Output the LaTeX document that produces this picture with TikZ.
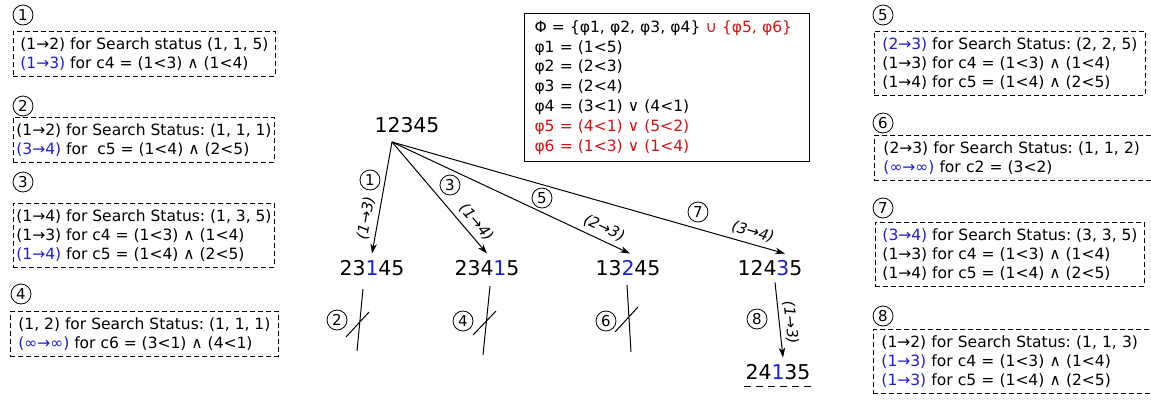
\documentclass[tikz,border=0pt]{standalone}
\usepackage{fontspec}
\setmainfont{DejaVu Sans}
\usetikzlibrary{arrows.meta,positioning}
\definecolor{swapblue}{RGB}{30,30,210}
\definecolor{phired}{RGB}{205,20,20}
\newcommand{\bl}[1]{\textcolor{swapblue}{#1}}
\newcommand{\rd}[1]{\textcolor{phired}{#1}}
\frenchspacing

\begin{document}
\begin{tikzpicture}[x=1pt,y=-1pt,>={Stealth[length=10pt,width=6.5pt]},
  status/.style={draw,dash pattern=on 5pt off 3pt,line width=0.9pt,anchor=north west,
    align=left,inner xsep=6pt,inner ysep=6pt,font=\fontsize{15.5}{19}\selectfont},
  stepno/.style={circle,draw,line width=0.8pt,inner sep=0pt,minimum size=20pt,
    font=\fontsize{15}{15}\selectfont},
  perm/.style={inner xsep=0pt,inner ysep=6.5pt,font=\fontsize{20.4}{20}\selectfont},
  swaplbl/.style={sloped,above=4pt,inner sep=1pt,font=\itshape\fontsize{15}{15}\selectfont},
  edge/.style={->,line width=1pt}]
  \useasboundingbox (0,0) rectangle (1151,399);

  % Left column of search states.
  \node[stepno] (s1) at (23,15) {1};
  \node[status,inner xsep=7pt] (b1) at (13,31)
    {(1→2) for Search status (1, 1, 5)\\
     \bl{(1→3)} for c4 = (1<3) ∧ (1<4)};
  \node[stepno] (s2) at (23,106) {2};
  \node[status,inner xsep=3pt] (b2) at (13,117)
    {(1→2) for Search Status: (1, 1, 1)\\
     \bl{(3→4)} for \ c5 = (1<4) ∧ (2<5)};
  \node[stepno] (s3) at (23,182) {3};
  \node[status,inner xsep=3pt] (b3) at (13,203)
    {(1→4) for Search Status: (1, 3, 5)\\
     (1→3) for c4 = (1<3) ∧ (1<4)\\
     \bl{(1→4)} for c5 = (1<4) ∧ (2<5)};
  \node[stepno] (s4) at (21,294) {4};
  \node[status,inner xsep=8pt] (b4) at (10,311)
    {(1, 2) for Search Status: (1, 1, 1)\\
     \bl{(∞→∞)} for c6 = (3<1) ∧ (4<1)};

  % Constraint set.
  \node[draw,line width=1pt,anchor=north west,align=left,text width=265pt,
    inner xsep=10pt,inner ysep=4pt,minimum height=148pt,
    font=\fontsize{15.5}{19.8}\selectfont] (phi) at (524,13)
    {Φ = \{φ1, φ2, φ3, φ4\} \rd{∪ \{φ5, φ6\}}\\
     φ1 = (1<5)\\
     φ2 = (2<3)\\
     φ3 = (2<4)\\
     φ4 = (3<1) ∨ (4<1)\\
     \rd{φ5 = (4<1) ∨ (5<2)}\\
     \rd{φ6 = (1<3) ∨ (1<4)}};

  % Search tree.
  \node[perm] (root) at (407,125) {12345};
  \coordinate (fork) at (392,142);
  \node[perm] (n1) at (372,268) {23\bl{1}45};
  \node[perm] (n3) at (487,268) {234\bl{1}5};
  \node[perm] (n5) at (628,268) {13\bl{2}45};
  \node[perm] (n7) at (770,268) {124\bl{3}5};
  \node[perm] (n8) at (778,372) {24\bl{1}35};

  \draw[edge] (fork) -- node[swaplbl,pos=0.70] {(1→3)} (n1.north);
  \draw[edge] (fork) -- node[swaplbl,pos=0.79] {(1→4)} (n3.north);
  \draw[edge] (fork) -- node[swaplbl,pos=0.87] {(2→3)} ([xshift=2pt]n5.north);
  \draw[edge] (fork) -- node[swaplbl,pos=0.91] {(3→4)} ([xshift=15pt]n7.north);
  \draw[edge] ([xshift=5pt]n7.south) -- node[swaplbl,above=3pt,pos=0.55] {(1→3)} ([xshift=5pt]n8.north);
  \node[stepno] (e1) at (370,180) {1};
  \node[stepno] (e3) at (450,185) {3};
  \node[stepno] (e5) at (542,198) {5};
  \node[stepno] (e7) at (698,212) {7};
  \node[stepno] (e8) at (757,319) {8};

  % Pruned branches.
  \draw[line width=1pt] (363,289) -- (357,351) (346,337) -- (369,312);
  \node[stepno] (e2) at (337,320) {2};
  \draw[line width=1pt] (490,286) -- (483,355) (473,335) -- (496,311);
  \node[stepno] (e4) at (463,321) {4};
  \draw[line width=1pt] (627,285) -- (631,352) (615,332) -- (638,307);
  \node[stepno] (e6) at (606,321) {6};

  % Solution mark.
  \draw[line width=1pt,dash pattern=on 7pt off 5pt]
    ([xshift=-1pt]n8.south west) -- ([xshift=5pt]n8.south east);

  % Right column of search states.
  \node[stepno] (s5) at (883,15) {5};
  \node[status,inner xsep=8pt] (b5) at (874,31)
    {\bl{(2→3)} for Search Status: (2, 2, 5)\\
     (1→3) for c4 = (1<3) ∧ (1<4)\\
     (1→4) for c5 = (1<4) ∧ (2<5)};
  \node[stepno] (s6) at (883,123) {6};
  \node[status,inner xsep=9pt,text width=270pt] (b6) at (874,135)
    {(2→3) for Search Status: (1, 1, 2)\\
     \bl{(∞→∞)} for c2 = (3<2)};
  \node[stepno] (s7) at (883,208) {7};
  \node[status,inner xsep=7pt] (b7) at (875,222)
    {\bl{(3→4)} for Search Status: (3, 3, 5)\\
     (1→3) for c4 = (1<3) ∧ (1<4)\\
     (1→4) for c5 = (1<4) ∧ (2<5)};
  \node[stepno] (s8) at (883,316) {8};
  \node[status,inner xsep=8pt,text width=270pt] (b8) at (873,329)
    {(1→2) for Search Status: (1, 1, 3)\\
     \bl{(1→3)} for c4 = (1<3) ∧ (1<4)\\
     \bl{(1→3)} for c5 = (1<4) ∧ (2<5)};
\end{tikzpicture}
\end{document}
